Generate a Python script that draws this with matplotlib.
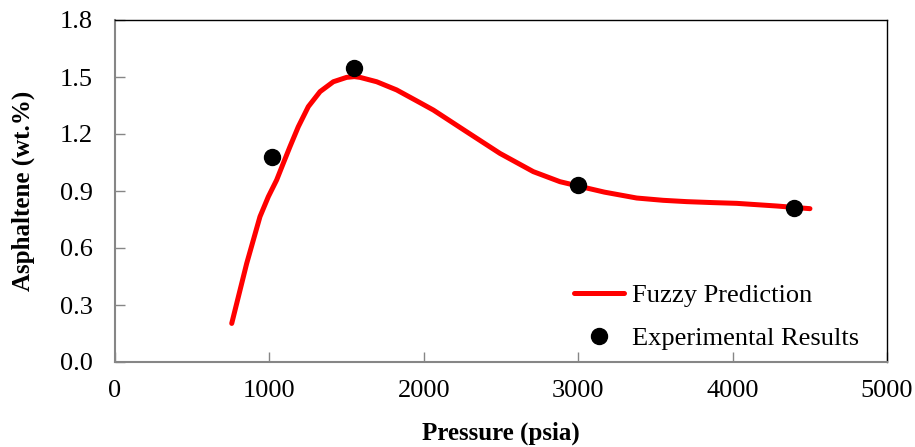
import matplotlib
matplotlib.use("Agg")
import matplotlib.pyplot as plt

plt.rcParams['font.family'] = ['Liberation Serif', 'DejaVu Serif']

# fuzzy prediction curve
fuzzy_p = [756, 810, 853, 896, 939, 993, 1047, 1090, 1133, 1187, 1252, 1328, 1414, 1500,
           1550, 1587, 1695, 1824, 1975, 2062, 2277, 2493, 2709, 2882, 3001, 3170,
           3379, 3550, 3703, 3870, 4027, 4286, 4501]
fuzzy_a = [0.203, 0.379, 0.519, 0.642, 0.765, 0.870, 0.958, 1.046, 1.133, 1.238, 1.344, 1.423, 1.475, 1.498,
           1.502, 1.498, 1.475, 1.432, 1.365, 1.326, 1.212, 1.098, 1.002, 0.949, 0.926, 0.894,
           0.863, 0.851, 0.844, 0.839, 0.835, 0.821, 0.807]

# experimental points
exp_p = [1017, 1548, 2996, 4400]
exp_a = [1.08, 1.55, 0.93, 0.81]

fig = plt.figure(figsize=(9.15, 4.47), dpi=100)
ax = fig.add_axes([115/915, 85/447, 772/915, 342/447])

ax.plot(fuzzy_p, fuzzy_a, color='#ff0000', lw=3.6, solid_capstyle='round',
        solid_joinstyle='round', label='Fuzzy Prediction')
ax.plot(exp_p, exp_a, 'o', color='black', ms=11.5, ls='none', label='Experimental Results')

ax.set_xlim(0, 5000)
ax.set_ylim(0, 1.8)
ax.set_xticks([0, 1000, 2000, 3000, 4000, 5000])
ax.set_yticks([0.0, 0.3, 0.6, 0.9, 1.2, 1.5, 1.8])
ax.set_yticklabels(['0.0', '0.3', '0.6', '0.9', '1.2', '1.5', '1.8'])

for s in ['left', 'bottom']:
    ax.spines[s].set_color('#868686')
    ax.spines[s].set_linewidth(1.5)
for s in ['top', 'right']:
    ax.spines[s].set_color('black')
    ax.spines[s].set_linewidth(1.0)
ax.tick_params(direction='in', length=7, width=1, color='#868686', labelsize=19)
ax.tick_params(axis='y', pad=16)
ax.tick_params(axis='x', pad=13)

ax.set_xlabel('Pressure (psia)', fontsize=18, fontweight='bold', labelpad=14)
ax.set_ylabel('Asphaltene (wt.%)', fontsize=18, fontweight='bold', labelpad=18)

ax.legend(loc='lower right', bbox_to_anchor=(0.995, -0.035), frameon=False, fontsize=19,
          handlelength=1.9, handletextpad=0.3, labelspacing=0.75)

fig.savefig('out.png', dpi=100)
